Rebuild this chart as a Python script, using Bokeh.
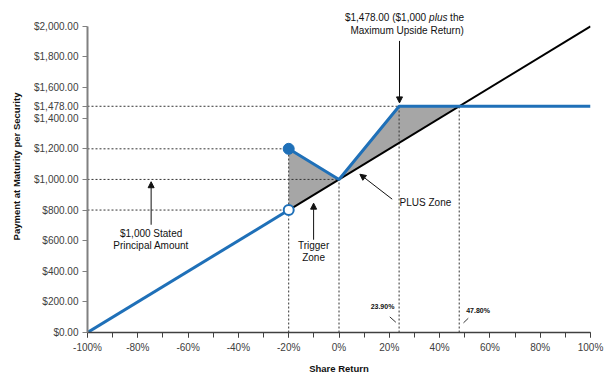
from bokeh.plotting import figure
from bokeh.models import (Range1d, FixedTicker, NumeralTickFormatter, Label,
                          Arrow, NormalHead)
from bokeh.embed import file_html
from bokeh.resources import INLINE

# ---- data ----
x_ticks = [-1.0, -0.8, -0.6, -0.4, -0.2, 0.0, 0.2, 0.4, 0.6, 0.8, 1.0]
y_ticks = [0, 200, 400, 600, 800, 1000, 1200, 1400, 1478, 1600, 1800, 2000]

# payment on the securities (blue)
low_return = [-1.0, -0.2]
low_payment = [0, 800]
high_return = [-0.2, 0.0, 0.239, 1.0]
high_payment = [1200, 1000, 1478, 1478]

# direct share investment (black)
share_return = [-0.2, 1.0]
share_payment = [800, 2000]

# shaded zones
trigger_zone_x = [-0.2, -0.2, 0.0]
trigger_zone_y = [800, 1200, 1000]
plus_zone_x = [0.0, 0.239, 0.478]
plus_zone_y = [1000, 1478, 1478]

# reference levels
principal = 1000
trigger_level = 800
trigger_payment = 1200
max_payment = 1478
cap_return = 0.239
breakeven_return = 0.478
trigger_return = -0.2

FONT = "Liberation Sans"
BLUE = "#1f70b8"

p = figure(width=614, height=376, x_range=Range1d(-1, 1), y_range=Range1d(0, 2169),
           output_backend="svg", toolbar_location=None,
           min_border_left=87, min_border_right=24, min_border_top=0, min_border_bottom=43)
p.outline_line_color = None
p.xgrid.visible = False
p.ygrid.visible = False
p.background_fill_color = "white"
p.border_fill_color = "white"

# axes
p.xaxis.ticker = FixedTicker(ticks=x_ticks, minor_ticks=[round(-1 + 0.1 * i, 1) for i in range(21)])
p.yaxis.ticker = FixedTicker(ticks=y_ticks, minor_ticks=[])
p.xaxis.formatter = NumeralTickFormatter(format="0%")
p.yaxis.formatter = NumeralTickFormatter(format="$0,0.00")
p.yaxis.bounds = (0, 2000)
for ax in (p.xaxis, p.yaxis):
    ax.major_label_text_font = FONT
    ax.major_label_text_font_size = "10px"
    ax.major_label_text_color = "#404040"
    ax.major_tick_in = 0
    ax.major_tick_out = 5
    ax.minor_tick_in = 0
    ax.minor_tick_out = 5
    ax.axis_label_text_font = FONT
    ax.axis_label_text_font_style = "bold"
    ax.axis_label_text_font_size = "9.5px"
    ax.axis_label_text_color = "#111111"
    ax.major_label_standoff = 4
p.yaxis.axis_line_color = "#808080"
p.yaxis.axis_line_width = 2
p.yaxis.major_tick_line_color = "#808080"
p.xaxis.axis_line_color = "#404040"
p.xaxis.axis_line_width = 1.5
p.xaxis.major_tick_line_color = "#404040"
p.xaxis.minor_tick_line_color = "#404040"
p.xaxis.axis_label = "Share Return"
p.yaxis.axis_label = "Payment at Maturity per Security"
p.xaxis.axis_label_standoff = 7
p.yaxis.axis_label_standoff = 9

# shaded zones
p.patch(trigger_zone_x, trigger_zone_y, fill_color="#a6a6a6", line_color=None)
p.patch(plus_zone_x, plus_zone_y, fill_color="#a6a6a6", line_color=None)

# dashed reference lines
DASH = dict(line_color="#333333", line_width=1, line_dash="2 2")
p.segment(x0=[-1, -1, -1, -1], y0=[max_payment, trigger_payment, principal, trigger_level],
          x1=[breakeven_return, trigger_return, 0.0, trigger_return],
          y1=[max_payment, trigger_payment, principal, trigger_level], **DASH)
p.segment(x0=[trigger_return, 0.0, cap_return, breakeven_return], y0=[0, 0, 0, 0],
          x1=[trigger_return, 0.0, cap_return, breakeven_return],
          y1=[trigger_payment, principal, max_payment, max_payment], **DASH)

# lines
p.line(share_return, share_payment, line_color="black", line_width=2)
p.line(low_return, low_payment, line_color=BLUE, line_width=3)
p.line(high_return, high_payment, line_color=BLUE, line_width=3)
p.scatter([trigger_return], [trigger_payment], size=11, fill_color=BLUE, line_color=BLUE)
p.scatter([trigger_return], [trigger_level], size=10, fill_color="white", line_color=BLUE, line_width=2)

# annotations
def lab(x, y, text, size="10px", align="center", style="normal", baseline="middle", xo=0, yo=0):
    p.add_layout(Label(x=x, y=y, text=text, text_font=FONT, text_font_size=size,
                       text_align=align, text_baseline=baseline, text_font_style=style,
                       text_color="#111111", x_offset=xo, y_offset=yo))

def arrow(x0, y0, x1, y1):
    p.add_layout(Arrow(x_start=x0, y_start=y0, x_end=x1, y_end=y1, line_width=1, line_color="#111111",
                       end=NormalHead(size=6, fill_color="#111111", line_color="#111111")))

lab(-0.747, 648, "$1,000 Stated")
lab(-0.747, 570, "Principal Amount")
arrow(-0.747, 704, -0.747, 985)

lab(-0.101, 567, "Trigger")
lab(-0.101, 489, "Zone")
arrow(-0.101, 606, -0.101, 845)

lab(0.241, 849, "PLUS Zone", align="left")
arrow(0.2115, 871, 0.083, 1034)

lab(cap_return, 2059, "$1,478.00 ($1,000", align="right", xo=27)
lab(cap_return, 2059, "plus", align="left", style="italic", xo=30)
lab(cap_return, 2059, "the", align="left", xo=51)
lab(cap_return, 1974, "Maximum Upside Return)", xo=8)
arrow(0.2406, 1905, 0.2406, 1500)

lab(0.173, 171, "23.90%", size="7px", style="bold")
p.segment(x0=[0.202, 0.495], y0=[102, 63], x1=[0.226, 0.514], y1=[67, 93], line_color="#333333", line_width=1)
lab(0.553, 145, "47.80%", size="7px", style="bold")

open("out.html", "w").write(file_html(p, INLINE))
